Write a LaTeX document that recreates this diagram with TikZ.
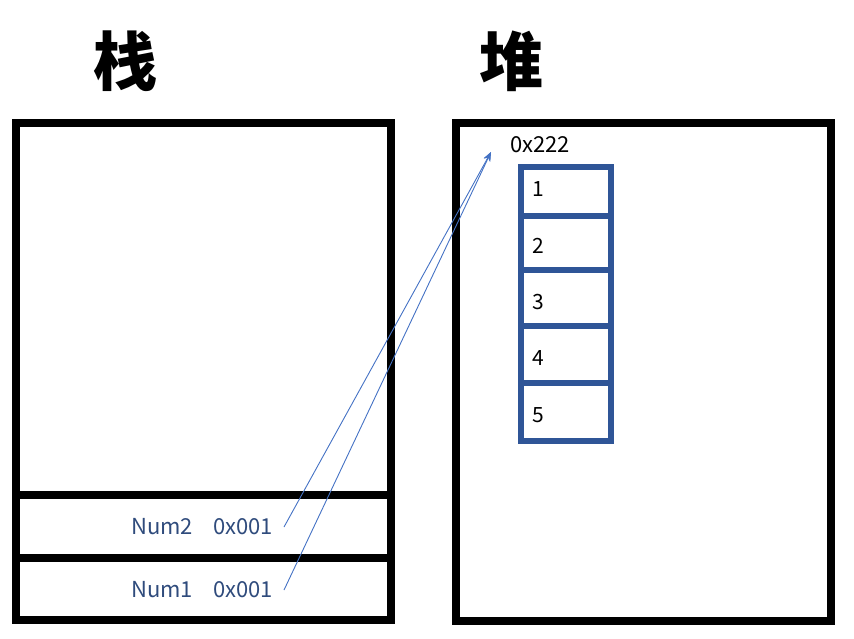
\documentclass[tikz,border=0pt]{standalone}
\usepackage{fontspec}
\setmainfont{Noto Sans CJK SC}
\newfontfamily\cjk{Noto Sans CJK SC}
\usetikzlibrary{arrows.meta}
\definecolor{numblue}{HTML}{2F4B7C}
\definecolor{cellblue}{HTML}{2F5597}
\definecolor{arrowblue}{HTML}{4472C4}

\begin{document}
\begin{tikzpicture}[x=1pt,y=-1pt,
    bigbox/.style={line width=7.5pt},
    cellbox/.style={draw=cellblue, line width=6pt},
    titletext/.style={font=\cjk\bfseries\fontsize{64}{64}\selectfont},
    numtext/.style={text=numblue, font=\fontsize{22}{22}\selectfont, anchor=east, inner xsep=11pt, inner ysep=0pt},
    celltext/.style={font=\fontsize{21}{21}\selectfont, inner sep=0pt},
    pointer/.style={draw=arrowblue, line width=0.9pt, -{Stealth[length=9pt,width=7pt]}}]
    \useasboundingbox (0,0) rectangle (854,638);

    % Titles
    \node[titletext] (stacktitle) at (125,61) {栈};
    \node[titletext] (heaptitle) at (511,61) {堆};

    % Stack frame and its two slots
    \draw[bigbox] (16,123) rectangle (391,620);
    \draw[bigbox] (16,495) -- (391,495);
    \draw[bigbox] (16,558) -- (391,558);

    % Heap frame
    \draw[bigbox] (456,123) rectangle (831,621);

    % Array cells in the heap
    \foreach \i/\ya/\yb/\yt in {1/167/216/189, 2/216/270/246, 3/270/326/302, 4/326/383/358, 5/383/440.5/415}
    {
        \draw[cellbox] (521,\ya) rectangle (610.5,\yb);
        \node[celltext] (cell\i) at (538,\yt) {\i};
    }
    \node[inner sep=0pt, font=\fontsize{22}{22}\selectfont] (addr) at (540,145) {0x222};
    \coordinate (heaptip) at (491,152);

    % Stack variables
    \node[numtext] (num2) at (284,527) {Num2\hspace{20pt}0x001};
    \node[numtext] (num1) at (284,590) {Num1\hspace{20pt}0x001};

    % References into the heap
    \draw[pointer] (num2.east) -- (heaptip);
    \draw[pointer] (num1.east) -- (heaptip);
\end{tikzpicture}
\end{document}
